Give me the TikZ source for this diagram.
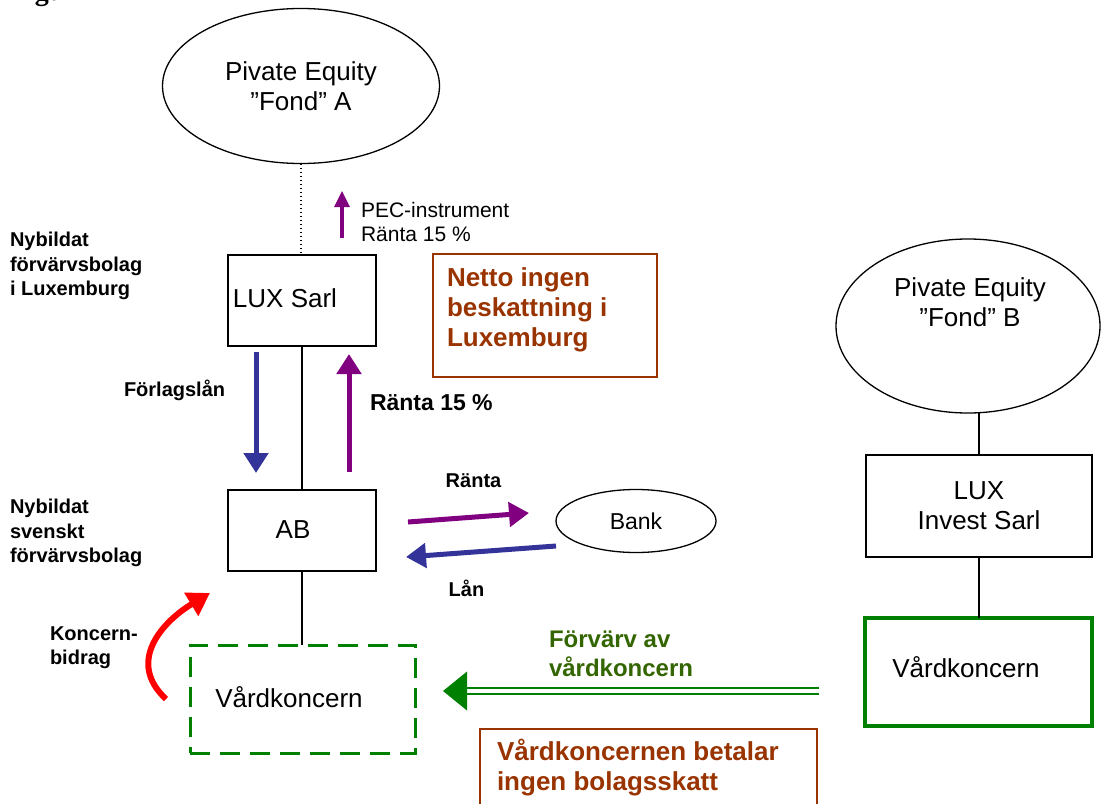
\documentclass[tikz,border=0pt]{standalone}
\usepackage{fontspec}
\setmainfont{Liberation Sans}
\newfontfamily\serifb{Liberation Serif}
\usetikzlibrary{arrows.meta,shapes.geometric}
\definecolor{pur}{RGB}{128,0,128}
\definecolor{blu}{RGB}{51,51,153}
\definecolor{brn}{RGB}{153,51,0}
\definecolor{grn}{RGB}{0,128,0}
\definecolor{grntext}{RGB}{51,102,0}
\begin{document}
\begin{tikzpicture}[x=1pt,y=-1pt,
  every node/.style={inner sep=0pt,outer sep=0pt},
  ent/.style={draw=black,line width=1.3pt},
  reg/.style={font=\fontsize{26}{30}\selectfont, align=center},
  lbl/.style={font=\bfseries\fontsize{20}{24.5}\selectfont, align=left},
  note/.style={font=\bfseries\fontsize{26}{30}\selectfont, text=brn, align=left},
  conn/.style={draw=black,line width=1.2pt},
  fat/.style={line width=5pt,-{Triangle[width=24pt,length=20pt]}},
]
\useasboundingbox (0,0) rectangle (1105,803);
\clip (0,0) rectangle (1105,803);

\node[anchor=base west, font=\serifb\bfseries\fontsize{28}{30}\selectfont] (fig) at (10,0.5) {Figur};

% entities
\node[ent, ellipse, minimum width=277pt, minimum height=155pt, reg] (fondA) at (301,86) {Pivate Equity\\”Fond” A};
\node[ent, minimum width=148pt, minimum height=91pt] (lux) at (302,300.5) {};
\node[reg] (luxt) at (285,298) {LUX Sarl};
\node[ent, minimum width=148pt, minimum height=81pt] (ab) at (302,530.5) {};
\node[reg] (abt) at (293,530) {AB};
\node[draw=grn, line width=3pt, dash pattern=on 20pt off 10pt, minimum width=225pt, minimum height=108pt] (vard) at (302.5,699) {};
\node[reg] (vardt) at (289,697) {Vårdkoncern};
\node[ent, ellipse, minimum width=160pt, minimum height=63pt, font=\fontsize{23}{28}\selectfont] (bank) at (636,521) {Bank};
\node[ent, ellipse, minimum width=264pt, minimum height=174pt] (fondB) at (968,326) {};
\node[reg] (fondBt) at (970,302) {Pivate Equity\\”Fond” B};
\node[ent, minimum width=226pt, minimum height=102pt, reg] (luxinv) at (979,506) {LUX\\Invest Sarl};
\node[draw=grn, line width=4pt, minimum width=227pt, minimum height=108pt] (vardB) at (978.5,672) {};
\node[reg] (vardBt) at (966,667) {Vårdkoncern};
\node[draw=brn, line width=2.5pt, minimum width=224pt, minimum height=123pt] (netto) at (545,315.5) {};
\node[note, anchor=west] (nettot) at (447,310) {Netto ingen\\beskattning i\\Luxemburg};
\node[draw=brn, line width=2.5pt, minimum width=337pt, minimum height=120pt, anchor=north west] (skatt) at (480,729) {};
\node[note, anchor=west] (skattt) at (497,768) {Vårdkoncernen betalar\\ingen bolagsskatt};

% labels
\node[lbl, anchor=west] (lab1) at (10,266) {Nybildat\\förvärvsbolag\\i Luxemburg};
\node[lbl, anchor=west] (lab2) at (10,533) {Nybildat\\svenskt\\förvärvsbolag};
\node[lbl, anchor=west] (forl) at (124,390) {Förlagslån};
\node[font=\bfseries\fontsize{23}{28}\selectfont, anchor=west] (r15) at (370,403) {Ränta 15 \%};
\node[font=\fontsize{21}{24}\selectfont, align=left, anchor=west] (pec) at (361,222) {PEC-instrument\\Ränta 15 \%};
\node[lbl] (rbank) at (473.5,481) {Ränta};
\node[lbl] (lan) at (466.5,588) {Lån};
\node[lbl, anchor=west] (konc) at (50,647.5) {Koncern-\\bidrag};
\node[font=\bfseries\fontsize{24}{29}\selectfont, text=grntext, align=left, anchor=west] (forv) at (549,654) {Förvärv av\\vårdkoncern};

% connectors
\draw[line width=1.2pt, dash pattern=on 1.5pt off 2.5pt] (fondA.south) -- (fondA.south |- lux.north);
\draw[conn] (lux.south) -- (ab.north);
\draw[conn] (ab.south) -- (ab.south |- vard.north);
\draw[conn] (fondB.south -| luxinv.north) -- (luxinv.north);
\draw[conn] (luxinv.south) -- (luxinv.south |- vardB.north);

% flow arrows
\coordinate (pecA) at (342,238); \coordinate (pecB) at (342,191);
\draw[pur, line width=3.2pt, -{Triangle[width=15pt,length=16pt]}] (pecA) -- (pecB);
\coordinate (flA) at (256,352); \coordinate (flB) at (256,473);
\draw[blu, fat] (flA) -- (flB);
\coordinate (r15A) at (349,472); \coordinate (r15B) at (349,354);
\draw[pur, fat] (r15A) -- (r15B);
\coordinate (rbA) at (408,522); \coordinate (rbB) at (529,513);
\draw[pur, fat] (rbA) -- (rbB);
\coordinate (lnA) at (556,546); \coordinate (lnB) at (406,557);
\draw[blu, fat] (lnA) -- (lnB);
\coordinate (kbA) at (166,699); \coordinate (kbB) at (210,593);
\draw[red, line width=6pt, -{Triangle[width=26pt,length=22pt]}] (kbA) .. controls (126,662) and (162,622) .. (kbB);
\coordinate (gS) at (819,691); \coordinate (gE) at (464,691); \coordinate (gT) at (443,691);
\draw[grn, line width=2pt, double=white, double distance=4pt] (gS) -- (gE);
\fill[grn] (gT) -- (467,671.5) -- (467,710.5) -- cycle;
\end{tikzpicture}
\end{document}
